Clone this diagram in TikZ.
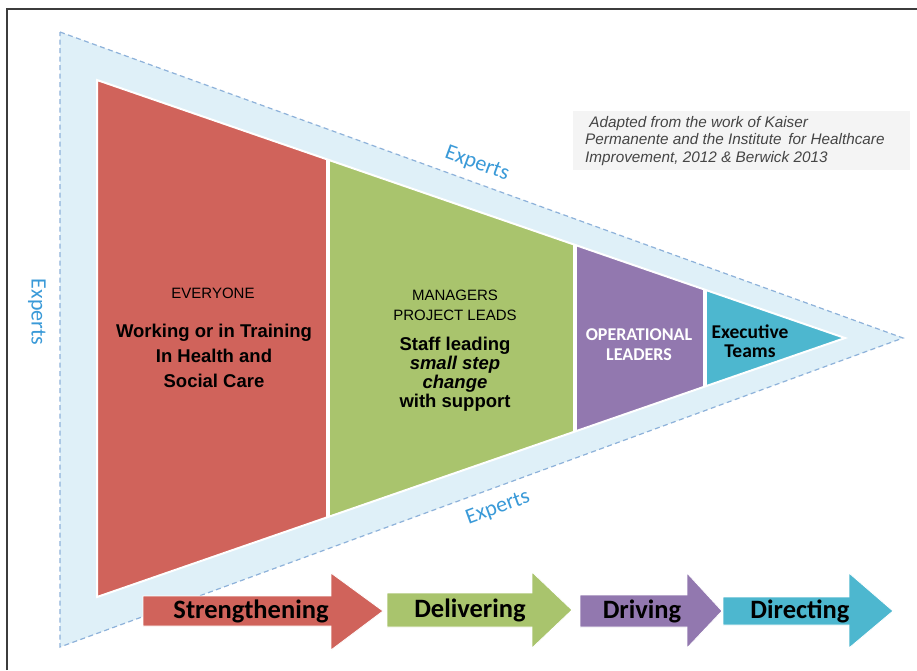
\documentclass[tikz,border=0pt]{standalone}
\usepackage{fontspec}
\setmainfont{Liberation Sans}
\newfontfamily\calib{Carlito}
\newfontfamily\arialf{Liberation Sans}
\definecolor{cRed}{HTML}{D0635B}
\definecolor{cGreen}{HTML}{A9C46D}
\definecolor{cPurple}{HTML}{9278AF}
\definecolor{cTeal}{HTML}{4DB7CF}
\definecolor{cBand}{HTML}{DFF0F8}
\definecolor{cDash}{HTML}{8EB2DA}
\definecolor{cExp}{HTML}{3A9AD8}
\definecolor{cFrame}{HTML}{3C3C3C}
\definecolor{cNote}{HTML}{F4F4F4}
\definecolor{cNoteText}{HTML}{454545}
\tikzset{
  explabel/.style={font=\calib\fontsize{22}{24}\selectfont, text=cExp, inner sep=0pt},
  arrowtext/.style={font=\calib\bfseries\fontsize{26.5}{28}\selectfont, text=black, inner sep=0pt},
  captext/.style={font=\arialf\fontsize{15}{20}\selectfont, align=center, inner sep=0pt},
  boldtext/.style={font=\arialf\bfseries\fontsize{18.5}{25}\selectfont, align=center, inner sep=0pt},
  flowarrow/.style={draw=white, line width=0.8pt},
}
\begin{document}
\begin{tikzpicture}[x=1pt,y=-1pt]
\useasboundingbox (0,0) rectangle (917,670);
\fill[white] (0,0) rectangle (917,670);
% frame
\draw[cFrame, line width=1.6pt] (7,670) -- (7,9) -- (917,9);
% outer band
\coordinate (OA) at (60,32);
\coordinate (OB) at (60,647);
\coordinate (OT) at (903,338);
\fill[cBand] (OA) -- (OT) -- (OB) -- cycle;
\draw[cDash, line width=1.2pt, dash pattern=on 5pt off 3.5pt] (OA) -- (OT) -- (OB) -- cycle;
% inner triangle
\coordinate (IA) at (97,80);
\coordinate (IB) at (97,597);
\coordinate (IT) at (845,338);
\begin{scope}
\clip (IA) -- (IT) -- (IB) -- cycle;
\fill[cRed] (90,60) rectangle (328,620);
\fill[cGreen] (328,60) rectangle (575,620);
\fill[cPurple] (575,60) rectangle (705,620);
\fill[cTeal] (705,60) rectangle (860,620);
\draw[white, line width=3.5pt] (328,60) -- (328,620);
\draw[white, line width=3.5pt] (575,60) -- (575,620);
\draw[white, line width=3.5pt] (705,60) -- (705,620);
\end{scope}
\draw[white, line width=2pt, line join=miter] (IA) -- (IT) -- (IB) -- cycle;
% Experts labels
\node[explabel, rotate=-20] (expTop) at (477,164) {Experts};
\node[explabel, rotate=20] (expBot) at (498,508) {Experts};
\node[explabel, rotate=-90] (expLeft) at (37,312) {Experts};
% note box
\fill[cNote] (573,111) rectangle (910,170);
\node[anchor=west, inner sep=0pt, align=left, text=cNoteText,
      font=\arialf\itshape\fontsize{15.3}{17.6}\selectfont] (note) at (585,141)
  {\ Adapted from the work of Kaiser\\Permanente and the Institute\, for Healthcare\\Improvement, 2012 \& Berwick 2013};
% red section text
\node[captext] (everyone) at (213,293) {EVERYONE};
\node[boldtext] (everyoneTxt) at (214,356) {Working or in Training\\In Health and\\Social Care};
% green section text
\node[captext, font=\arialf\fontsize{15}{20}\selectfont] (managers) at (455,305) {MANAGERS\\PROJECT LEADS};
\node[boldtext, font=\arialf\bfseries\fontsize{18.5}{19}\selectfont] (managersTxt) at (455,374)
  {Staff leading\\\textit{small step}\\\textit{change}\\with support};
% purple text
\node[align=center, inner sep=0pt, text=white, font=\calib\bfseries\fontsize{18}{20}\selectfont] (opl) at (639,345) {OPERATIONAL\\LEADERS};
% teal text
\node[align=center, inner sep=0pt, text=black, font=\calib\bfseries\fontsize{19.5}{19}\selectfont] (exe) at (750,341) {Executive\\Teams};
% arrows
\fill[cRed, flowarrow] (143,596) -- (331,596) -- (331,573) -- (383,611) -- (331,650) -- (331,626) -- (143,626) -- cycle;
\fill[cGreen, flowarrow] (387,593) -- (532,593) -- (532,572) -- (572,610) -- (532,648) -- (532,627) -- (387,627) -- cycle;
\fill[cPurple, flowarrow] (580,595) -- (687,595) -- (687,573) -- (722,611) -- (687,648) -- (687,627) -- (580,627) -- cycle;
\fill[cTeal, flowarrow] (723,597) -- (849,597) -- (849,573) -- (893,611) -- (849,648) -- (849,625) -- (723,625) -- cycle;
\node[arrowtext] (a1) at (251,611) {Strengthening};
\node[arrowtext] (a2) at (470,610) {Delivering};
\node[arrowtext] (a3) at (642,611) {Driving};
\node[arrowtext] (a4) at (800,611) {Directing};
\end{tikzpicture}
\end{document}
